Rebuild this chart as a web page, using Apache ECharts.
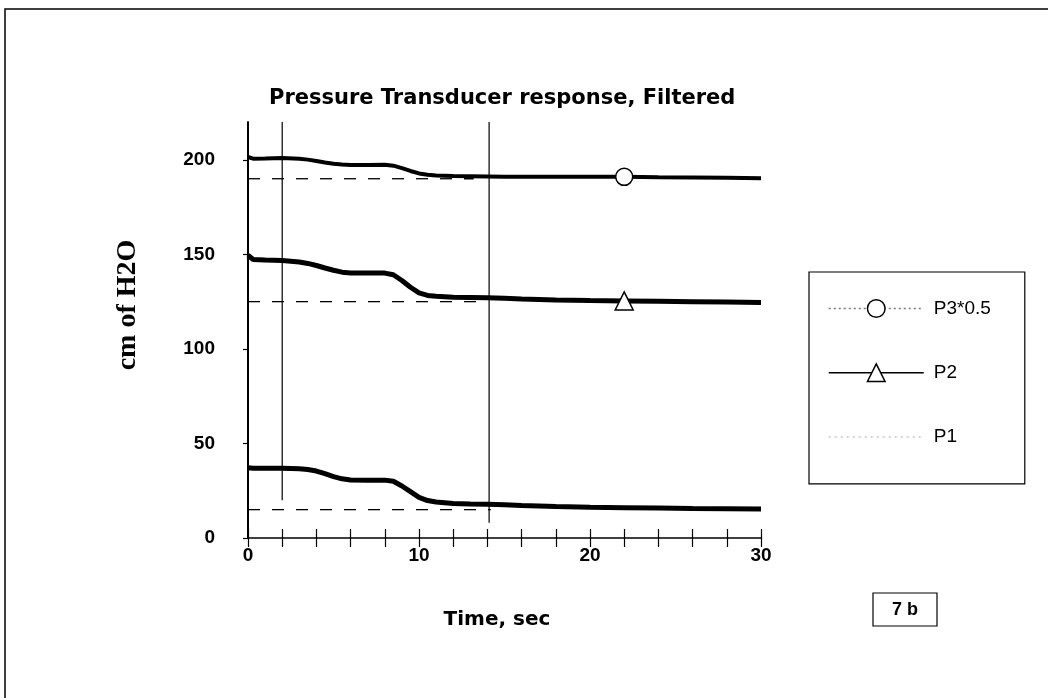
<!DOCTYPE html>
<html><head><meta charset="utf-8">
<script src="https://cdn.jsdelivr.net/npm/echarts@6/dist/echarts.min.js"></script>
<style>html,body{margin:0;padding:0;background:#fff}#c{width:1048px;height:698px}</style>
</head><body><div id="c"></div>
<script>
// ---- data ----
const timeSec = [0, 0.3, 1, 2, 3, 3.5, 4, 4.5, 5, 5.5, 6, 7, 8, 8.5, 9, 9.5, 10, 10.5, 11, 12, 13, 14, 15, 16, 18, 20, 22, 24, 26, 28, 30];
const p3Half = [201.5, 200.6, 200.7, 200.9, 200.6, 200.1, 199.4, 198.6, 197.9, 197.5, 197.3, 197.3, 197.4, 196.9, 195.6, 194.1, 192.8, 192.1, 191.7, 191.4, 191.3, 191.2, 191.1, 191.0, 191.0, 191.0, 191.0, 190.8, 190.7, 190.5, 190.3];
const p2 = [149.5, 147.3, 147.0, 146.8, 146.0, 145.2, 144.1, 142.8, 141.6, 140.6, 140.2, 140.1, 140.1, 139.2, 136.2, 132.6, 129.6, 128.3, 127.8, 127.3, 127.2, 127.1, 126.8, 126.4, 125.9, 125.6, 125.4, 125.2, 125.0, 124.8, 124.6];
const p1 = [37.2, 36.9, 36.9, 36.9, 36.6, 36.2, 35.4, 34.0, 32.5, 31.3, 30.7, 30.6, 30.6, 30.0, 27.5, 24.5, 21.5, 19.8, 19.0, 18.3, 18.0, 17.9, 17.6, 17.2, 16.6, 16.2, 16.0, 15.8, 15.6, 15.5, 15.4];
const seriesNames = ['P3*0.5', 'P2', 'P1'];
const markerTime = 22;
const targetLevels = [190, 125, 15];
const targetEnds = [13.2, 13.4, 14.2];
const cursorTimes = [2, 14.1];
const cursorTops = [220, 220];
const cursorBottoms = [20, 8];
const xTickValues = [0, 2, 4, 6, 8, 10, 12, 14, 16, 18, 20, 22, 24, 26, 28, 30];
const xLabelValues = [0, 10, 20, 30];
const yTickValues = [0, 50, 100, 150, 200];

// ---- build ----
function curveData(vals, symbol, size) {
  return timeSec.map((t, i) => t === markerTime
    ? { value: [t, vals[i]], symbol: symbol, symbolSize: size }
    : { value: [t, vals[i]], symbol: 'none' });
}
const sansB = 'Liberation Sans';
const series = [];
targetLevels.forEach((lv, i) => series.push({
  name: 'target' + i, type: 'line', silent: true, symbol: 'none', z: 1,
  data: [[0, lv], [targetEnds[i], lv]],
  lineStyle: { color: '#000', width: 1.3, type: [12, 12] }
}));
cursorTimes.forEach((t, i) => series.push({
  name: 'cursor' + i, type: 'line', silent: true, symbol: 'none', z: 2,
  data: [[t, cursorTops[i]], [t, cursorBottoms[i]]],
  lineStyle: { color: '#000', width: 1.2 }
}));
const markerStyle = { color: '#fff', borderColor: '#000', borderWidth: 1.5 };
series.push({
  name: seriesNames[0], type: 'line', symbol: 'circle', showSymbol: true, z: 3,
  data: curveData(p3Half, 'circle', 17), itemStyle: markerStyle,
  lineStyle: { color: '#000', width: 4 }
});
series.push({
  name: seriesNames[1], type: 'line', symbol: 'triangle', showSymbol: true, z: 3,
  data: curveData(p2, 'triangle', 18), itemStyle: markerStyle,
  lineStyle: { color: '#000', width: 5 }
});
series.push({
  name: seriesNames[2], type: 'line', symbol: 'circle', showSymbol: true, z: 3,
  data: timeSec.map((t, i) => ({ value: [t, p1[i]], symbol: 'none' })),
  itemStyle: markerStyle,
  lineStyle: { color: '#000', width: 5 }
});

const chart = echarts.init(document.getElementById('c'), null, { renderer: 'canvas' });
chart.setOption({
  backgroundColor: '#fff',
  animation: false,
  title: {
    text: 'Pressure Transducer response, Filtered', left: 264, top: 83,
    textStyle: { fontFamily: 'DejaVu Sans', fontWeight: 'bold', fontSize: 21, color: '#000' }
  },
  grid: { left: 248, right: 287, top: 122, bottom: 160 },
  legend: {
    orient: 'vertical', left: 809, top: 272, itemWidth: 95, itemHeight: 22, itemGap: 45,
    padding: [27, 34, 37, 19], borderColor: '#000', borderWidth: 1.2, selectedMode: false,
    textStyle: { fontFamily: sansB, fontSize: 19, color: '#000', padding: [0, 0, 0, 5] },
    data: [
      { name: seriesNames[0], lineStyle: { color: '#777', width: 1.5, type: [2, 3] }, itemStyle: markerStyle },
      { name: seriesNames[1], lineStyle: { color: '#000', width: 1.5, type: 'solid' }, itemStyle: markerStyle },
      { name: seriesNames[2], lineStyle: { color: '#aaa', width: 1.2, type: [2, 4] }, itemStyle: { opacity: 0 } }
    ]
  },
  xAxis: [{
    type: 'value', min: 0, max: 30,
    axisLine: { show: true, lineStyle: { color: '#000', width: 1.5 } },
    axisTick: { show: true, customValues: xTickValues, length: 9, lineStyle: { color: '#000', width: 1.2 } },
    axisLabel: { customValues: xLabelValues, margin: 8, fontFamily: sansB, fontWeight: 'bold', fontSize: 19, color: '#000' },
    splitLine: { show: false },
    name: 'Time, sec', nameLocation: 'middle', nameGap: 72,
    nameTextStyle: { fontFamily: 'DejaVu Sans', fontWeight: 'bold', fontSize: 20, color: '#000', padding: [0, 15, 0, 0] }
  }, {
    type: 'value', min: 0, max: 30, position: 'bottom',
    axisLine: { show: false },
    axisTick: { show: true, inside: true, customValues: xTickValues, length: 9, lineStyle: { color: '#000', width: 1.2 } },
    axisLabel: { show: false }, splitLine: { show: false }
  }],
  yAxis: {
    type: 'value', min: 0, max: 220,
    axisLine: { show: true, lineStyle: { color: '#000', width: 2 } },
    axisTick: { show: true, customValues: yTickValues, length: 5, lineStyle: { color: '#000', width: 1.2 } },
    axisLabel: { customValues: yTickValues, margin: 33, fontFamily: sansB, fontWeight: 'bold', fontSize: 19, color: '#000' },
    splitLine: { show: false },
    name: 'cm of H2O', nameLocation: 'middle', nameRotate: 90, nameGap: 106,
    nameTextStyle: { fontFamily: 'Liberation Serif', fontWeight: 'bold', fontSize: 28, color: '#000', padding: [0, 0, 0, 50] }
  },
  series: series,
  graphic: [
    { type: 'rect', shape: { x: 5, y: 9, width: 1200, height: 800 }, style: { fill: 'none', stroke: '#000', lineWidth: 1.5 }, silent: true, z: -1 },
    { type: 'rect', shape: { x: 873, y: 593, width: 64, height: 33 }, style: { fill: '#fff', stroke: '#000', lineWidth: 1.2 } },
    { type: 'text', x: 905, y: 610, style: { text: '7 b', fill: '#000', font: 'bold 18px "Liberation Sans"', align: 'center', verticalAlign: 'middle' } }
  ]
});
</script>
</body></html>
